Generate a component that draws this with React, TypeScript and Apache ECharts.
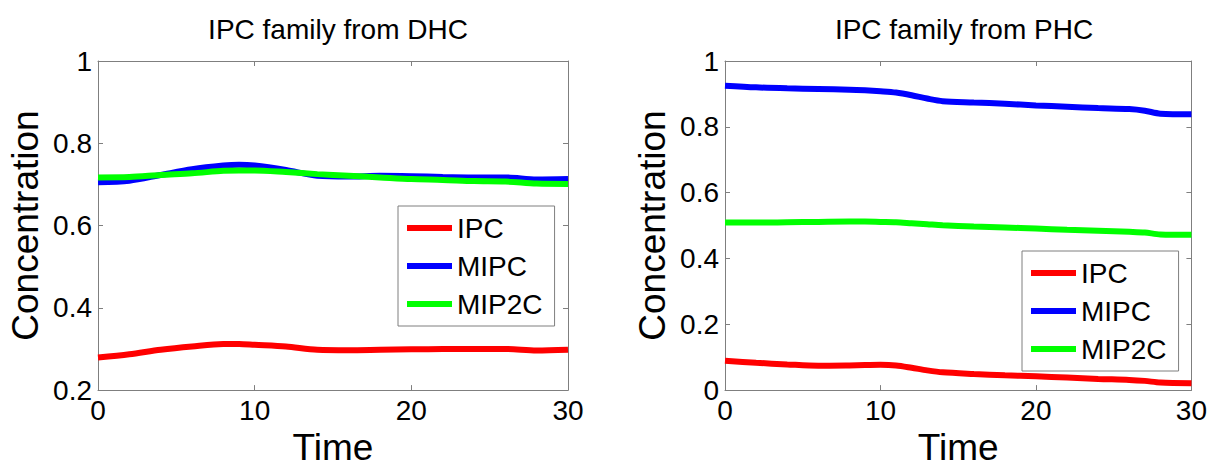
import React, { useEffect, useRef } from "react";
import * as echarts from "echarts";

const seriesNames = ["IPC", "MIPC", "MIP2C"];
const seriesColors = ["#ff0000", "#0000ff", "#00ff00"];
const titles = ["IPC family from DHC", "IPC family from PHC"];

const timeL = [0, 2, 4, 6, 8, 9, 10, 12, 14, 16, 18, 20, 22, 24, 26, 28, 30];
const ipcL = [0.279, 0.287, 0.298, 0.306, 0.312, 0.312, 0.31, 0.306, 0.298, 0.297, 0.298, 0.299, 0.3, 0.3, 0.3, 0.296, 0.298];
const mipcL = [0.705, 0.709, 0.723, 0.737, 0.746, 0.748, 0.746, 0.735, 0.721, 0.719, 0.721, 0.72, 0.718, 0.717, 0.717, 0.712, 0.713];
const mip2cL = [0.717, 0.718, 0.723, 0.727, 0.733, 0.734, 0.734, 0.73, 0.725, 0.721, 0.717, 0.713, 0.711, 0.708, 0.707, 0.702, 0.701];

const timeR = [0, 2, 4, 6, 8, 9, 10, 11, 12, 13, 14, 16, 18, 20, 22, 24, 26, 27, 28, 30];
const ipcR = [0.089, 0.083, 0.078, 0.074, 0.075, 0.076, 0.077, 0.075, 0.068, 0.06, 0.054, 0.049, 0.045, 0.042, 0.038, 0.034, 0.031, 0.028, 0.023, 0.021];
const mipcR = [0.925, 0.92, 0.917, 0.915, 0.913, 0.911, 0.908, 0.904, 0.896, 0.886, 0.878, 0.874, 0.87, 0.865, 0.861, 0.857, 0.854, 0.849, 0.84, 0.838];
const mip2cR = [0.509, 0.509, 0.51, 0.511, 0.512, 0.512, 0.511, 0.51, 0.507, 0.504, 0.501, 0.497, 0.494, 0.491, 0.487, 0.484, 0.481, 0.479, 0.473, 0.472];

const xTicks = { min: 0, max: 30, interval: 10 };
const yRangeL = { min: 0.2, max: 1, interval: 0.2 };
const yRangeR = { min: 0, max: 1, interval: 0.2 };

const FONT = "Liberation Sans, Arial, sans-serif";
const GREY = "#7f7f7f";

export default function App() {
  const ref = useRef<HTMLDivElement>(null);
  useEffect(() => {
    if (!ref.current) return;
    const chart = echarts.init(ref.current, undefined, { renderer: "svg" });

    const grids = [
      { left: 98, top: 61, width: 470, height: 343 },
      { left: 725, top: 61, width: 468, height: 343 },
    ];
    const yRanges = [yRangeL, yRangeR];

    const xAxes: any[] = [];
    const yAxes: any[] = [];
    [0, 1].forEach((g) => {
      xAxes.push({
        type: "value", gridIndex: g, position: "bottom", ...xTicks,
        name: "Time", nameLocation: "middle", nameGap: 35,
        nameTextStyle: { fontSize: 37, color: "#000", fontFamily: FONT },
        axisLine: { show: true, onZero: false, lineStyle: { color: GREY, width: 1 } },
        axisTick: { show: true, inside: true, length: 5, lineStyle: { color: GREY } },
        axisLabel: { fontSize: 28, color: "#000", fontFamily: FONT, margin: 6 },
        splitLine: { show: false },
      });
      xAxes.push({
        type: "value", gridIndex: g, position: "top", ...xTicks,
        axisLine: { show: true, onZero: false, lineStyle: { color: GREY, width: 1 } },
        axisTick: { show: true, inside: true, length: 5, lineStyle: { color: GREY } },
        axisLabel: { show: false },
        splitLine: { show: false },
      });
      yAxes.push({
        type: "value", gridIndex: g, position: "left", ...yRanges[g],
        name: "Concentration", nameLocation: "middle", nameGap: 54,
        nameTextStyle: { fontSize: 37, color: "#000", fontFamily: FONT },
        axisLine: { show: true, onZero: false, lineStyle: { color: GREY, width: 1 } },
        axisTick: { show: true, inside: true, length: 5, lineStyle: { color: GREY } },
        axisLabel: { fontSize: 28, color: "#000", fontFamily: FONT, margin: 6 },
        splitLine: { show: false },
      });
      yAxes.push({
        type: "value", gridIndex: g, position: "right", ...yRanges[g],
        axisLine: { show: true, onZero: false, lineStyle: { color: GREY, width: 1 } },
        axisTick: { show: true, inside: true, length: 5, lineStyle: { color: GREY } },
        axisLabel: { show: false },
        splitLine: { show: false },
      });
    });

    const pairs = (t: number[], v: number[]) => t.map((x, i) => [x, v[i]]);
    const dataSets = [
      [pairs(timeL, ipcL), pairs(timeL, mipcL), pairs(timeL, mip2cL)],
      [pairs(timeR, ipcR), pairs(timeR, mipcR), pairs(timeR, mip2cR)],
    ];

    const series: any[] = [];
    [0, 1].forEach((g) => {
      seriesNames.forEach((name, i) => {
        series.push({
          type: "line", name, xAxisIndex: g * 2, yAxisIndex: g * 2,
          data: dataSets[g][i], smooth: 0.3, showSymbol: false,
          lineStyle: { color: seriesColors[i], width: 6 },
          itemStyle: { color: seriesColors[i] },
          z: i === 1 ? 2 : 3,
        });
      });
    });

    const legendBase = {
      orient: "vertical",
      data: seriesNames,
      icon: "rect",
      itemWidth: 45,
      itemHeight: 6,
      itemGap: 10,
      padding: [8, 12, 8, 9],
      borderColor: GREY,
      borderWidth: 1,
      backgroundColor: "#fff",
      selectedMode: false,
      textStyle: { fontSize: 28, color: "#000", fontFamily: FONT, lineHeight: 28 },
    };

    chart.setOption({
      animation: false,
      backgroundColor: "#fff",
      title: [
        { text: titles[0], left: 333, top: 10, textAlign: "center", textStyle: { fontSize: 28, fontWeight: "normal", color: "#000", fontFamily: FONT } },
        { text: titles[1], left: 959, top: 10, textAlign: "center", textStyle: { fontSize: 28, fontWeight: "normal", color: "#000", fontFamily: FONT } },
      ],
      grid: grids,
      xAxis: xAxes,
      yAxis: yAxes,
      legend: [
        { ...legendBase, left: 398, top: 206 },
        { ...legendBase, left: 1022, top: 251 },
      ],
      series,
    });
    return () => chart.dispose();
  }, []);
  return <div ref={ref} style={{ position: "fixed", left: 0, top: 0, width: 1210, height: 471 }} />;
}
